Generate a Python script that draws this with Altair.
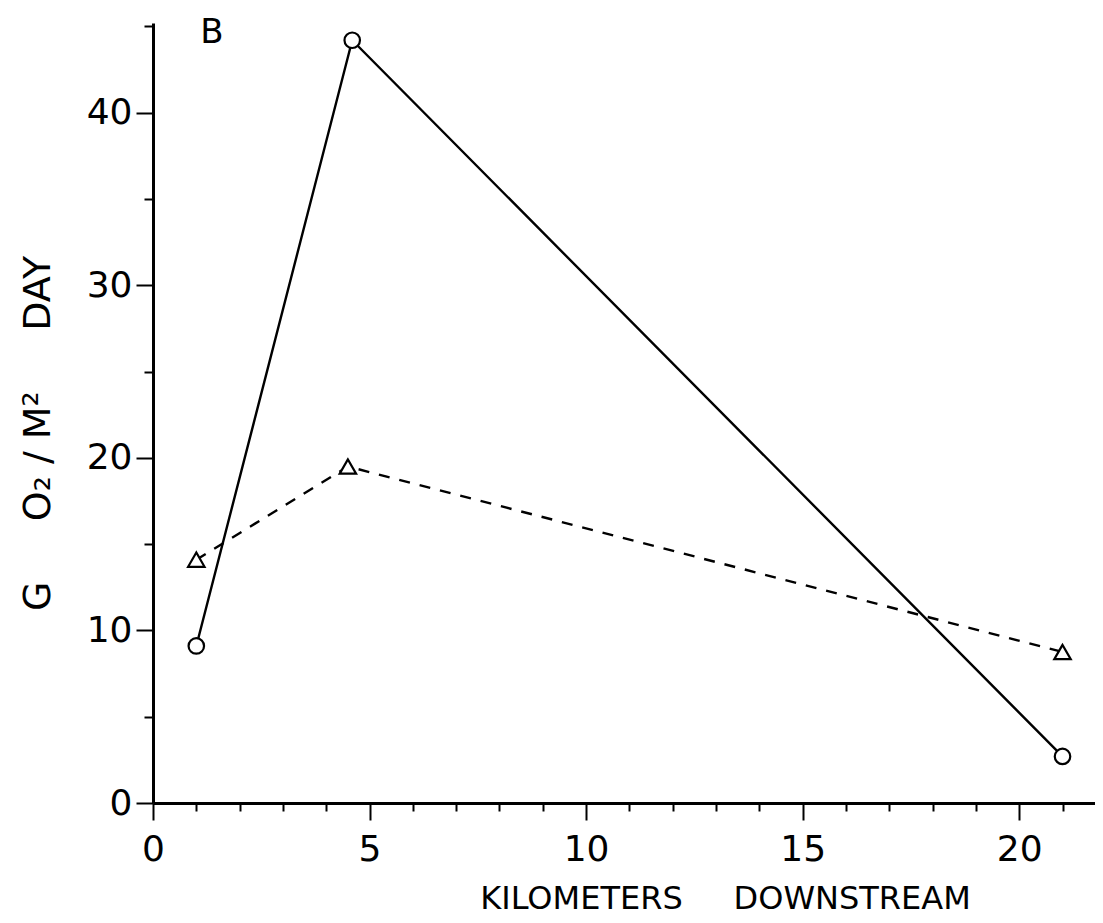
import altair as alt
import pandas as pd

# Series
km_solid = [1.0, 4.6, 21.0]
o2_solid = [9.1, 44.2, 2.7]
km_dashed = [1.0, 4.5, 21.0]
o2_dashed = [14.1, 19.5, 8.75]

# Axis ticks
x_major = [0, 5, 10, 15, 20]
x_minor = [v for v in range(0, 22) if v % 5 != 0]
y_major = [0, 10, 20, 30, 40]
y_minor = [5, 15, 25, 35, 45]

panel_text = ["B"]
panel_x = [1.36]
panel_y = [44.6]

FONT = "DejaVu Sans"
SP = "\u00a0"

solid = pd.DataFrame({"km": km_solid, "o2": o2_solid})
dashed = pd.DataFrame({"km": km_dashed, "o2": o2_dashed})
label_df = pd.DataFrame({"t": panel_text, "km": panel_x, "o2": panel_y})

xscale = alt.Scale(domain=[0, 21.75], nice=False, zero=False)
yscale = alt.Scale(domain=[0, 45.2], nice=False, zero=False)

x_title = "KILOMETERS" + SP * 5 + "DOWNSTREAM"
y_title = "G" + SP * 5 + "O₂" + SP + "/" + SP + "M²" + SP * 5 + "DAY"

x_major_axis = alt.Axis(
    orient="bottom",
    values=x_major, tickSize=17, tickWidth=2, tickColor="black",
    domainWidth=3, domainColor="black", labelFont=FONT, labelFontSize=36,
    labelColor="black", labelPadding=12, grid=False,
    title=x_title, titleFont=FONT, titleFontSize=32,
    titleFontWeight="normal", titleColor="black", titleX=572, titleY=95,
    titleAlign="center", titleBaseline="middle", titleAnchor="start",
    labelFlush=False, labelOverlap=False,
)
x_minor_axis = alt.Axis(
    orient="bottom",
    values=x_minor, tickSize=8, tickWidth=2, tickColor="black",
    domain=False, labels=False, title=None, grid=False,
)
y_major_axis = alt.Axis(
    orient="left",
    values=y_major, tickSize=17, tickWidth=2, tickColor="black",
    domainWidth=3, domainColor="black", labelFont=FONT, labelFontSize=36,
    labelColor="black", labelPadding=4, grid=False,
    title=y_title, titleFont=FONT, titleFontSize=38,
    titleFontWeight="normal", titleColor="black", titleAngle=270,
    titleX=-115, titleY=410, titleAlign="center", titleBaseline="middle",
    labelFlush=False, labelOverlap=False,
)
y_minor_axis = alt.Axis(
    orient="left",
    values=y_minor, tickSize=9, tickWidth=2, tickColor="black",
    domain=False, labels=False, title=None, grid=False,
)

solid_line = alt.Chart(solid).mark_line(color="black", strokeWidth=2.4).encode(
    x=alt.X("km:Q", scale=xscale, axis=x_major_axis),
    y=alt.Y("o2:Q", scale=yscale, axis=y_major_axis),
)
dashed_line = alt.Chart(dashed).mark_line(
    color="black", strokeWidth=2.4, strokeDash=[11, 10]
).encode(
    x=alt.X("km:Q", scale=xscale, axis=x_minor_axis),
    y=alt.Y("o2:Q", scale=yscale, axis=y_minor_axis),
)
solid_pts = alt.Chart(solid).mark_point(
    shape="circle", size=240, filled=True, fill="white", stroke="black",
    strokeWidth=2.2, opacity=1,
).encode(
    x=alt.X("km:Q", scale=xscale, axis=None),
    y=alt.Y("o2:Q", scale=yscale, axis=None),
)
dashed_pts = alt.Chart(dashed).mark_point(
    shape="triangle-up", size=270, filled=True, fill="white", stroke="black",
    strokeWidth=2.2, opacity=1,
).encode(
    x=alt.X("km:Q", scale=xscale, axis=None),
    y=alt.Y("o2:Q", scale=yscale, axis=None),
)
label = alt.Chart(label_df).mark_text(
    font=FONT, fontSize=34, color="black",
    align="center", baseline="middle",
).encode(
    x=alt.X("km:Q", scale=xscale, axis=None),
    y=alt.Y("o2:Q", scale=yscale, axis=None),
    text="t:N",
)

chart = alt.layer(
    solid_line, dashed_line, solid_pts, dashed_pts, label
).resolve_axis(x="independent", y="independent").properties(
    width=942, height=780,
    padding={"left": 145, "top": 15, "right": 0, "bottom": 120},
    autosize=alt.AutoSizeParams(type="none"),
    background="white",
).configure_view(stroke=None)

chart.save("out.html", embed_options={"renderer": "svg", "actions": False})
